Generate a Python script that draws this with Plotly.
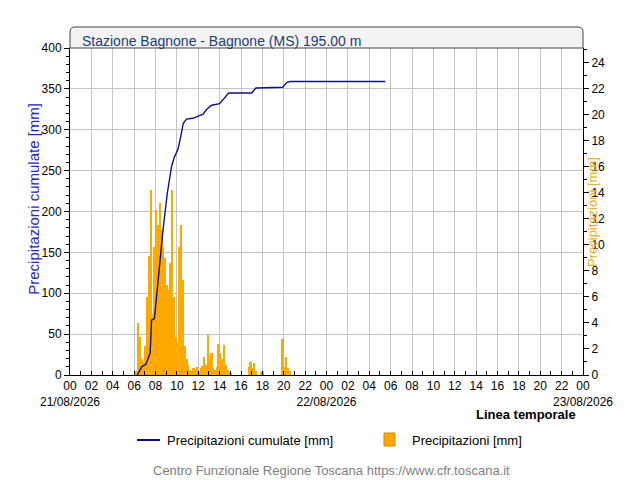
import numpy as np
import plotly.graph_objects as go

# cumulative rainfall (hours since 21/08/2026 00:00, mm)
cum_hours = [6.3, 6.7, 7.1, 7.5, 7.63, 7.9, 8.1, 8.4, 8.7, 9.1, 9.5, 9.75,
             10.1, 10.35, 10.6, 10.9, 11.5, 12.45, 12.8, 13.25, 14.0, 14.85,
             17.0, 17.4, 19.9, 20.3, 20.6, 29.5]
cum_mm = [0, 10, 13, 27, 67, 69, 96, 137, 177, 222, 255, 266,
          276, 291, 308, 313, 314, 319, 325, 330, 332, 345,
          345, 351, 352, 358, 359, 359]

# 10-minute rainfall from 06:00 on 21/08 (mm)
rain_start_hour = 6.0
rain_mm = [0, 0.3, 4.0, 2.9, 1.2, 1.0,
           2.2, 6.0, 9.1, 14.2, 4.7, 9.8,
           12.7, 11.5, 13.2, 11.1, 9.8, 9.0,
           6.9, 6.5, 8.6, 14.2, 6.0, 2.9,
           2.5, 9.8, 11.5, 7.3, 2.2, 1.2,
           0.8, 0.4, 0.3, 0.5, 0.4, 0.6,
           0.3, 0.5, 0.7, 1.4, 0.8, 3.1,
           1.4, 1.7, 0.5, 0.4, 0.6, 2.4,
           1.7, 1.2, 2.3, 0.8, 0.4, 0.2,
           0.1, 0, 0, 0, 0, 0,
           0, 0, 0, 0, 0.6, 1.0,
           0.5, 0.9, 0.3, 0, 0, 0.2,
           0.3, 0, 0, 0, 0, 0,
           0, 0, 0, 0, 0, 2.8,
           0.6, 1.4, 0.5, 0.3, 0, 0]
rain_hours = rain_start_hour + np.arange(len(rain_mm)) / 6 + 1 / 12

tick_hours = list(range(0, 49, 2))
tick_text = ["%02d" % (h % 24) for h in tick_hours]
tick_text[0] += "<br>21/08/2026"
tick_text[12] += "<br>22/08/2026"
tick_text[24] += "<br>23/08/2026"

FONT = "Liberation Sans"
LINE_COLOR = "#10108a"
BAR_COLOR = "#ffa800"

fig = go.Figure()
fig.add_trace(go.Scatter(
    x=cum_hours, y=cum_mm, mode="lines", yaxis="y2",
    name="Precipitazioni cumulate [mm]",
    line=dict(color=LINE_COLOR, width=1.4)))
fig.add_trace(go.Bar(
    x=rain_hours, y=rain_mm, width=1 / 6, yaxis="y",
    name="Precipitazioni [mm]",
    marker=dict(color=BAR_COLOR, line=dict(width=0))))

# the page body adds 8px, so margins are shifted by that amount
fig.update_layout(
    width=640, height=480,
    margin=dict(l=62, r=65, t=40, b=113, autoexpand=False),
    paper_bgcolor="white", plot_bgcolor="white",
    font=dict(family=FONT, size=12, color="black"),
    bargap=0, showlegend=False,
    xaxis=dict(range=[0, 48], tickmode="array", tickvals=tick_hours,
               ticktext=tick_text, tickangle=0, automargin=False,
               showgrid=True, gridcolor="#c4c4c4",
               ticks="inside", ticklen=4, tickcolor="black",
               showline=True, linecolor="black", zeroline=False,
               minor=dict(tickvals=list(range(49)), ticks="inside",
                          ticklen=4, tickcolor="black", showgrid=False)),
    yaxis=dict(range=[0, 25.1], side="right", dtick=2, showgrid=False,
               automargin=False,
               ticks="outside", ticklen=5, tickcolor="black",
               showline=True, linecolor="black", zeroline=False,
               minor=dict(dtick=1, ticks="outside", ticklen=3,
                          tickcolor="black")),
    yaxis2=dict(range=[0, 400], side="left", overlaying="y", dtick=50,
                automargin=False,
                showgrid=True, gridcolor="#c4c4c4",
                ticks="outside", ticklen=5, tickcolor="black",
                showline=True, linecolor="black", zeroline=False,
                minor=dict(dtick=10, ticks="outside", ticklen=3,
                           tickcolor="black")),
)

# title box with rounded top corners
rx, ry, top = 5 / 513, 5 / 327, 1 + 21 / 327
fig.add_shape(type="path", xref="paper", yref="paper",
              path=f"M 0,1 L 0,{top - ry} Q 0,{top} {rx},{top} "
                   f"L {1 - rx},{top} Q 1,{top} 1,{top - ry} L 1,1 Z",
              fillcolor="#f3f3f3", line=dict(color="#444444", width=1))

# legend drawn by hand to match spacing
fig.add_shape(type="line", xref="paper", yref="paper",
              x0=0.1306, x1=0.1754, y0=-0.1988, y1=-0.1988,
              line=dict(color=LINE_COLOR, width=2))
fig.add_shape(type="rect", xref="paper", yref="paper",
              x0=0.6121, x1=0.6335, y0=-0.2171, y1=-0.1774,
              fillcolor=BAR_COLOR, line=dict(color="#d08800", width=1))
fig.add_annotation(x=0.1852, y=-0.1988, xref="paper", yref="paper",
                   xanchor="left", yanchor="middle", showarrow=False,
                   text="Precipitazioni cumulate [mm]", font=dict(size=13))
fig.add_annotation(x=0.6628, y=-0.1988, xref="paper", yref="paper",
                   xanchor="left", yanchor="middle", showarrow=False,
                   text="Precipitazioni [mm]", font=dict(size=13))

fig.add_annotation(x=0.02, y=1.0214, xref="paper", yref="paper",
                   xanchor="left", yanchor="middle", showarrow=False,
                   text="Stazione Bagnone - Bagnone (MS) 195.00 m",
                   font=dict(size=14, color="#1c3c7a"))
fig.add_annotation(x=-0.092, y=0.54, xref="paper", yref="paper",
                   textangle=-90, showarrow=False,
                   text="Precipitazioni cumulate [mm]",
                   font=dict(size=15, color="#2626c8"))
fig.add_annotation(x=1.037, y=0.5, xref="paper", yref="paper",
                   textangle=-90, showarrow=False,
                   text="Precipitazioni [mm]",
                   font=dict(size=13, color="#e8b030"))
fig.add_annotation(x=0.99, y=-0.12, xref="paper", yref="paper",
                   xanchor="right", yanchor="middle", showarrow=False,
                   text="<b>Linea temporale</b>", font=dict(size=13))
fig.add_annotation(x=0.51, y=-0.291, xref="paper", yref="paper",
                   xanchor="center", yanchor="middle", showarrow=False,
                   text="Centro Funzionale Regione Toscana https://www.cfr.toscana.it",
                   font=dict(size=13, color="#808080"))

fig.write_html("out.html")
